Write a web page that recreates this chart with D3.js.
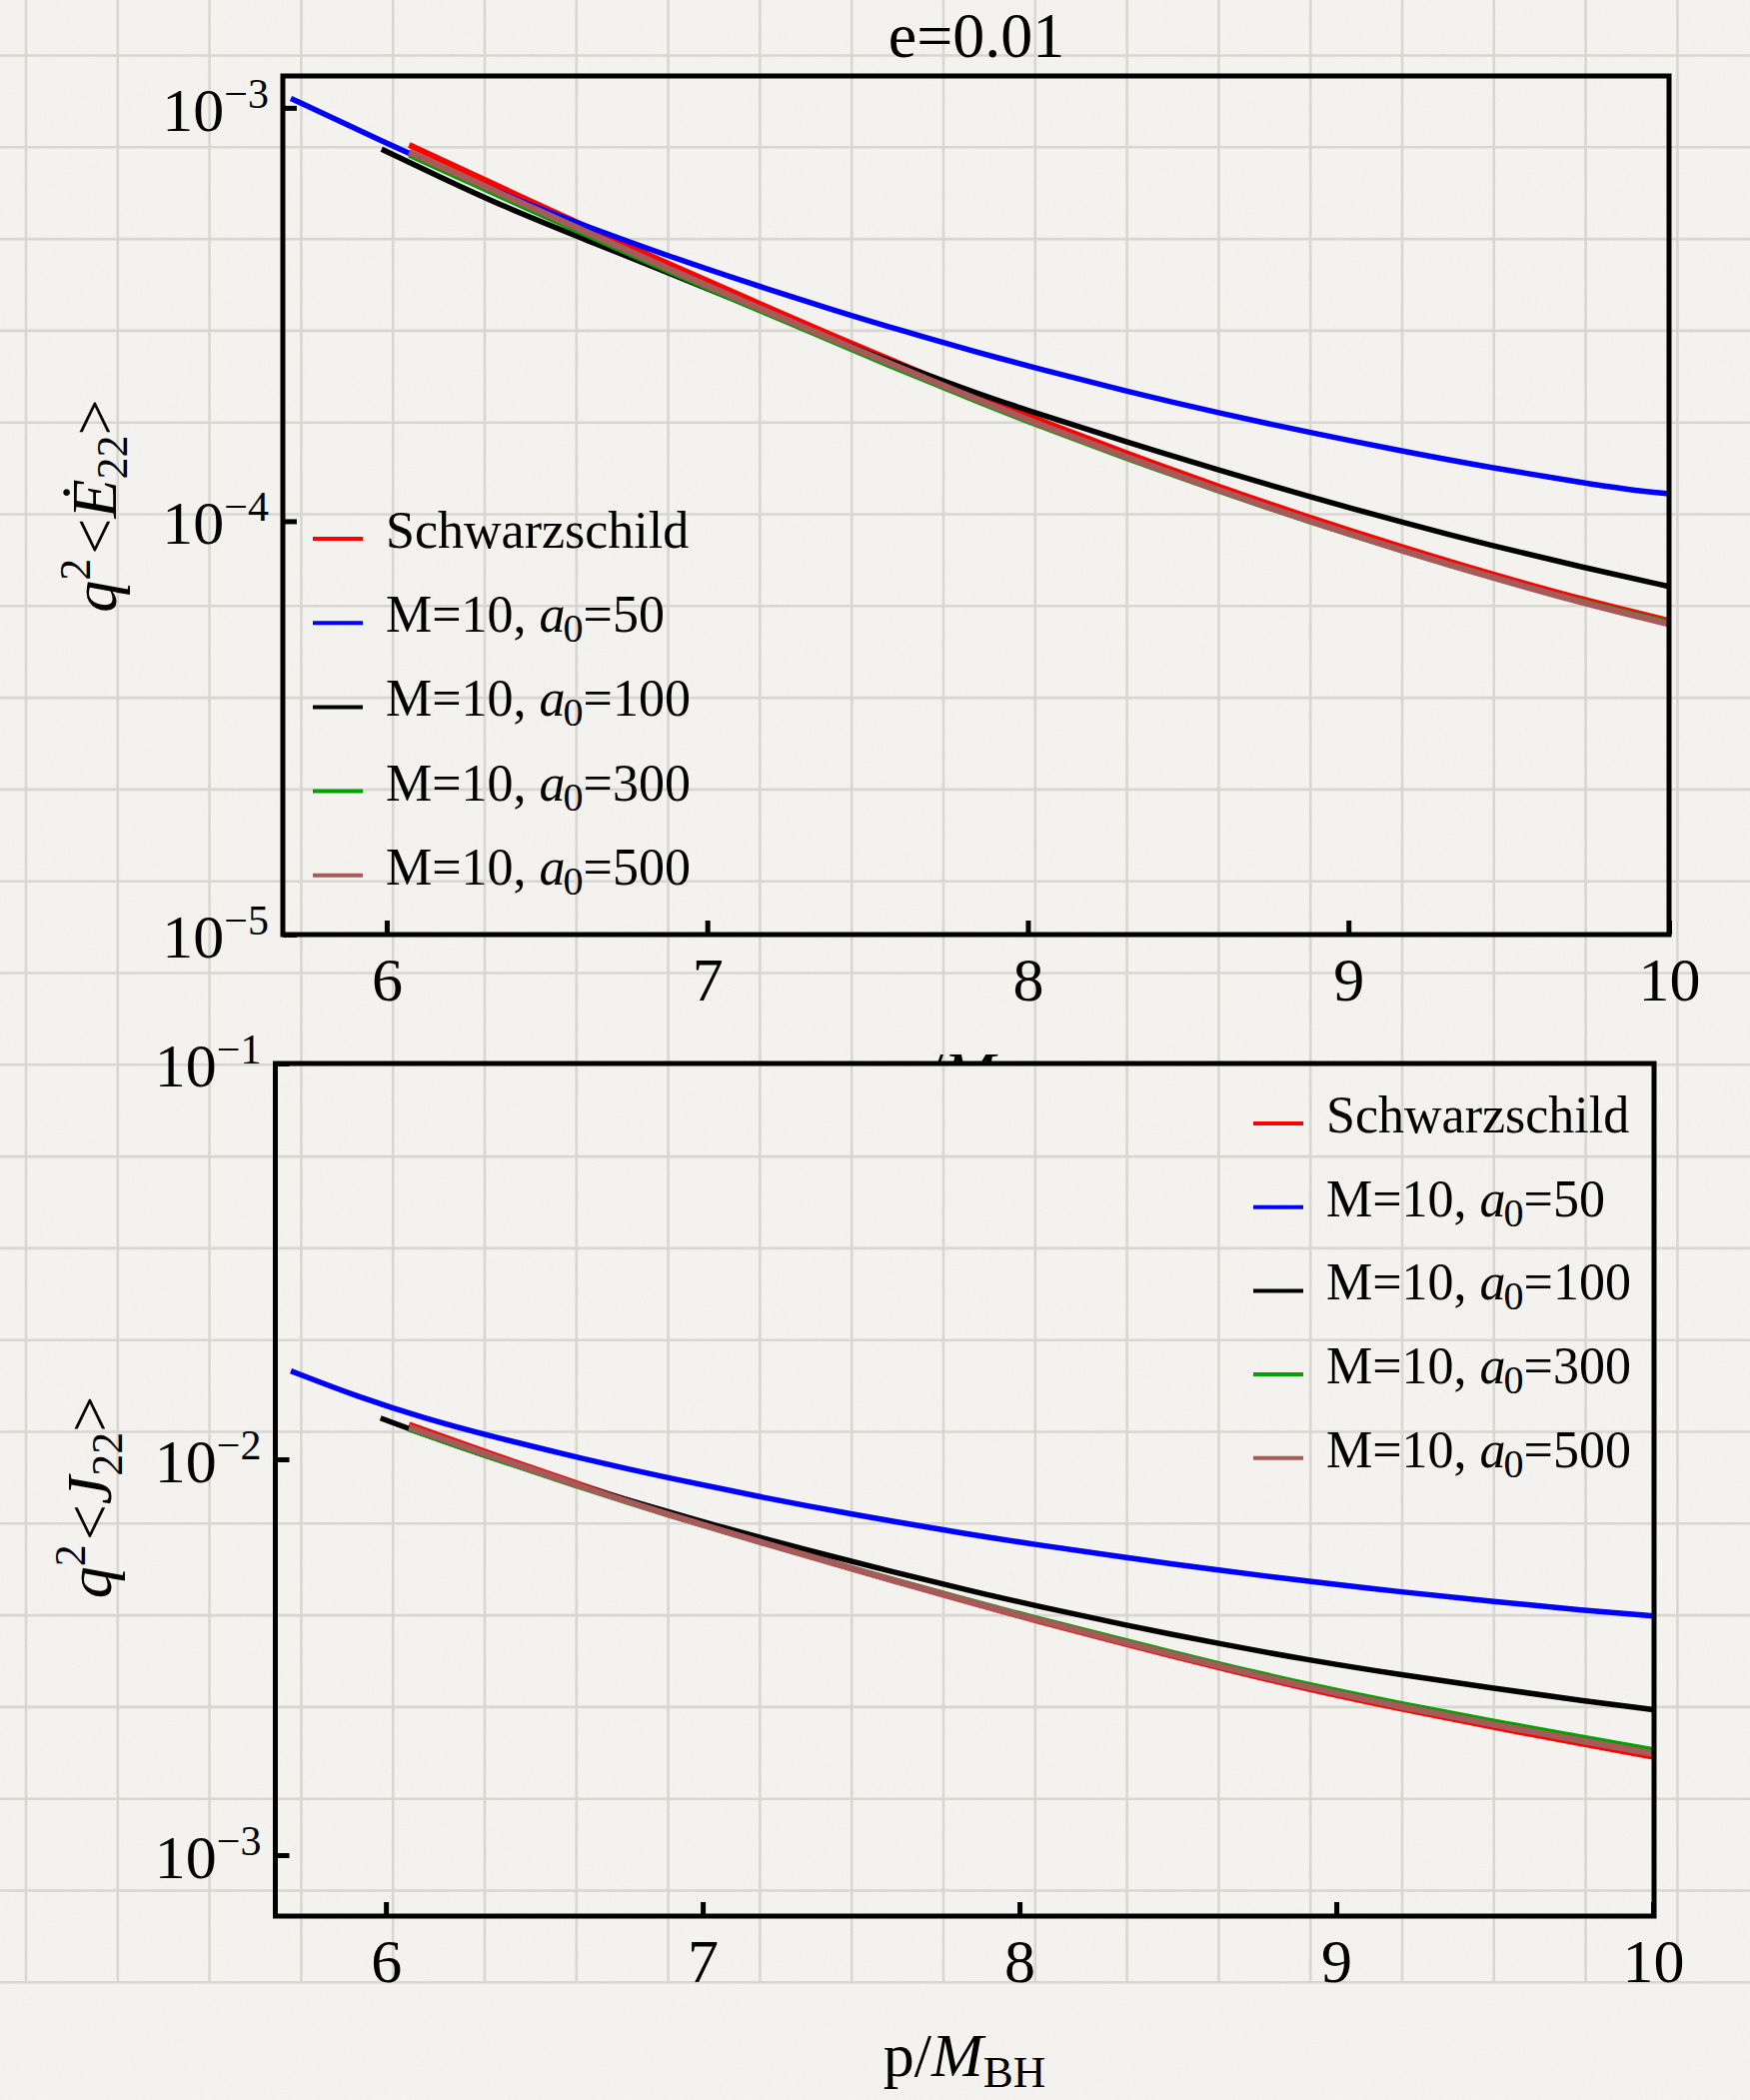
<!DOCTYPE html>
<html>
<head>
<meta charset="utf-8">
<script src="https://cdn.jsdelivr.net/npm/d3@7"></script>
<style>
  body { margin: 0; background: #f3f2ee; }
  svg text { font-family: "Liberation Serif", "Times New Roman", serif; fill: #000; }
</style>
</head>
<body>
<div id="chart"></div>
<script>
// ---- datos ----
// panel superior: q^2 <dE/dt>
var pE_blue = [5.701, 5.875, 6.07, 6.251, 6.431, 6.64, 6.875, 7.128, 7.405, 7.614, 7.847, 8.022, 8.305, 8.598, 8.875, 9.168, 9.445, 9.738, 9.863, 10.0];
var E_blue  = [1.054e-3, 9.11e-4, 7.75e-4, 6.73e-4, 5.89e-4, 5.11e-4, 4.39e-4, 3.77e-4, 3.22e-4, 2.88e-4, 2.556e-4, 2.35e-4, 2.064e-4, 1.825e-4, 1.641e-4, 1.477e-4, 1.347e-4, 1.236e-4, 1.195e-4, 1.165e-4];

var pE_black = [5.984, 6.153, 6.361, 6.64, 6.875, 7.128, 7.405, 7.614, 7.847, 8.022, 8.305, 8.598, 8.875, 9.168, 9.445, 9.738, 10.0];
var E_black  = [7.94e-4, 6.88e-4, 5.78e-4, 4.73e-4, 4.00e-4, 3.33e-4, 2.72e-4, 2.37e-4, 2.03e-4, 1.83e-4, 1.556e-4, 1.327e-4, 1.148e-4, 9.93e-5, 8.74e-5, 7.71e-5, 6.95e-5];

var pE_s    = [6.07, 6.251, 6.431, 6.64, 6.875, 7.128, 7.405, 7.614, 7.847, 8.022, 8.305, 8.598, 8.875, 9.168, 9.445, 9.738, 10.0];
var E_red   = [8.13e-4, 7.00e-4, 6.03e-4, 5.08e-4, 4.20e-4, 3.45e-4, 2.78e-4, 2.38e-4, 2.005e-4, 1.77e-4, 1.46e-4, 1.209e-4, 1.021e-4, 8.64e-5, 7.44e-5, 6.43e-5, 5.74e-5];
var E_green = [7.69e-4, 6.64e-4, 5.74e-4, 4.86e-4, 4.03e-4, 3.32e-4, 2.69e-4, 2.30e-4, 1.94e-4, 1.716e-4, 1.42e-4, 1.179e-4, 9.99e-5, 8.47e-5, 7.32e-5, 6.35e-5, 5.69e-5];
var E_brown = [7.82e-4, 6.75e-4, 5.83e-4, 4.94e-4, 4.09e-4, 3.36e-4, 2.72e-4, 2.33e-4, 1.96e-4, 1.73e-4, 1.43e-4, 1.186e-4, 1.002e-4, 8.49e-5, 7.32e-5, 6.32e-5, 5.64e-5];

// panel inferior: q^2 <J>
var pJ_blue = [5.70, 5.915, 6.126, 6.338, 6.62, 6.902, 7.183, 7.464, 7.842, 8.054, 8.334, 8.631, 8.912, 9.208, 9.497, 9.785, 10.0];
var J_blue  = [1.672e-2, 1.434e-2, 1.266e-2, 1.140e-2, 1.0035e-2, 8.93e-3, 8.03e-3, 7.28e-3, 6.46e-3, 6.085e-3, 5.646e-3, 5.245e-3, 4.915e-3, 4.62e-3, 4.37e-3, 4.15e-3, 4.02e-3];

var pJ_black = [5.983, 6.197, 6.479, 6.76, 7.041, 7.324, 7.606, 7.842, 8.054, 8.334, 8.631, 8.912, 9.208, 9.497, 9.785, 10.0];
var J_black  = [1.271e-2, 1.098e-2, 9.25e-3, 7.90e-3, 6.80e-3, 5.91e-3, 5.18e-3, 4.66e-3, 4.26e-3, 3.81e-3, 3.42e-3, 3.11e-3, 2.85e-3, 2.64e-3, 2.45e-3, 2.33e-3];

var pJ_s    = [6.073, 6.338, 6.62, 6.902, 7.183, 7.464, 7.842, 8.054, 8.334, 8.631, 8.912, 9.208, 9.497, 9.785, 10.0];
var J_red   = [1.2226e-2, 1.0272e-2, 8.585e-3, 7.242e-3, 6.188e-3, 5.31e-3, 4.357e-3, 3.907e-3, 3.420e-3, 2.974e-3, 2.624e-3, 2.339e-3, 2.104e-3, 1.905e-3, 1.773e-3];
var J_green = [1.191e-2, 1.0065e-2, 8.461e-3, 7.179e-3, 6.17e-3, 5.325e-3, 4.395e-3, 3.965e-3, 3.480e-3, 3.035e-3, 2.694e-3, 2.408e-3, 2.173e-3, 1.979e-3, 1.846e-3];
var J_brown = [1.205e-2, 1.0153e-2, 8.51e-3, 7.20e-3, 6.17e-3, 5.31e-3, 4.37e-3, 3.93e-3, 3.44e-3, 3.00e-3, 2.655e-3, 2.366e-3, 2.135e-3, 1.939e-3, 1.804e-3];

var xTicks = [6, 7, 8, 9, 10];
var yTicksTop = [1e-5, 1e-4, 1e-3];
var yTicksBot = [1e-3, 1e-2, 1e-1];

var legendNames = ["Schwarzschild", "50", "100", "300", "500"];
var colores = ["#ff0000", "#0000ff", "#000000", "#00a000", "#a65a5a"];
var anchos = [6, 5.5, 5.5, 5.5, 6.5];

var W = 1751, H = 2101;
var serif = '"Liberation Serif", "Times New Roman", serif';

var svg = d3.select("#chart").append("svg")
  .attr("width", W)
  .attr("height", H);

// ---- fondo tipo papel cuadriculado ----
var defs = svg.append("defs");
var f = defs.append("filter").attr("id", "papel").attr("x", 0).attr("y", 0).attr("width", 1).attr("height", 1);
f.append("feTurbulence").attr("type", "fractalNoise").attr("baseFrequency", 0.7).attr("numOctaves", 3).attr("seed", 4);
f.append("feColorMatrix").attr("type", "matrix")
  .attr("values", "0 0 0 0 0.45  0 0 0 0 0.45  0 0 0 0 0.43  0.12 0 0 0 0");
defs.append("clipPath").attr("id", "corte")
  .append("rect").attr("x", 0).attr("y", 0).attr("width", W).attr("height", 1062);

svg.append("rect").attr("width", W).attr("height", H).attr("fill", "#f7f6f3");
svg.append("rect").attr("width", W).attr("height", H).attr("filter", "url(#papel)");

var grid = svg.append("g").attr("stroke", "#d8d6d1").attr("stroke-width", 2.6);
var paso = 91.8, gridBottom = 1983.5;
d3.range(0, 19).forEach(function (k) {
  grid.append("line").attr("x1", 26 + k * paso).attr("x2", 26 + k * paso)
    .attr("y1", 0).attr("y2", gridBottom);
});
d3.range(0, 22).forEach(function (k) {
  grid.append("line").attr("x1", 0).attr("x2", W)
    .attr("y1", 55.5 + k * paso).attr("y2", 55.5 + k * paso);
});

// ---- un panel ----
function graficar_panel(cfg) {
  var x = d3.scaleLinear().domain(cfg.xDom).range([cfg.left, cfg.right]);
  var y = d3.scaleLog().domain(cfg.yDom).range([cfg.bottom, cfg.top]);
  var g = svg.append("g");

  var linea = d3.line()
    .x(function (d) { return x(d[0]); })
    .y(function (d) { return y(d[1]); })
    .curve(d3.curveBasis);

  cfg.series.forEach(function (s, i) {
    g.append("path")
      .datum(d3.zip(s[0], s[1]))
      .attr("d", linea)
      .attr("fill", "none")
      .attr("stroke", colores[i])
      .attr("stroke-width", anchos[i])
      .attr("stroke-linejoin", "round");
  });

  // eje x
  var gx = g.append("g")
    .attr("transform", "translate(0," + cfg.bottom + ")")
    .call(d3.axisBottom(x).tickValues(xTicks).tickSize(-14).tickPadding(22).tickFormat(d3.format("d")));
  gx.select(".domain").remove();
  gx.attr("font-size", 62).attr("font-family", serif);
  gx.selectAll(".tick line").attr("stroke", "#000").attr("stroke-width", 5);

  // eje y
  var gy = g.append("g")
    .attr("transform", "translate(" + cfg.left + ",0)")
    .call(d3.axisLeft(y).tickValues(cfg.yTicks).tickSize(-14).tickPadding(14));
  gy.select(".domain").remove();
  gy.attr("font-size", 62).attr("font-family", serif);
  gy.selectAll(".tick line").attr("stroke", "#000").attr("stroke-width", 5);
  gy.selectAll(".tick text").each(function (d) {
    var t = d3.select(this).text("").attr("dy", "0.36em");
    t.append("tspan").text("10");
    t.append("tspan").attr("font-size", 42).attr("dy", -23)
      .text("\u2212" + Math.round(-Math.log10(d)));
  });

  // marco
  g.append("rect")
    .attr("x", cfg.left).attr("y", cfg.top)
    .attr("width", cfg.right - cfg.left).attr("height", cfg.bottom - cfg.top)
    .attr("fill", "none").attr("stroke", "#000").attr("stroke-width", 5);

  // leyenda
  var leg = g.append("g");
  legendNames.forEach(function (nombre, i) {
    var yy = cfg.legY + i * cfg.legStep;
    leg.append("line")
      .attr("x1", cfg.legX).attr("x2", cfg.legX + 50)
      .attr("y1", yy).attr("y2", yy)
      .attr("stroke", colores[i]).attr("stroke-width", 4);
    var t = leg.append("text").attr("x", cfg.legX + 73).attr("y", yy + 9).attr("font-size", 52);
    if (i === 0) {
      t.text(nombre);
    } else {
      t.append("tspan").text("M=10, ");
      t.append("tspan").attr("font-style", "italic").text("a");
      t.append("tspan").attr("font-size", 40).attr("dy", 10).attr("dx", -2).text("0");
      t.append("tspan").attr("dy", -10).text("=" + nombre);
    }
  });

  return { x: x, y: y, g: g };
}

// panel superior
graficar_panel({
  left: 283, right: 1670, top: 76, bottom: 935,
  xDom: [5.676, 10], yDom: [1e-5, Math.pow(10, -2.923)],
  yTicks: yTicksTop,
  series: [[pE_s, E_red], [pE_blue, E_blue], [pE_black, E_black], [pE_s, E_green], [pE_s, E_brown]],
  legX: 313, legY: 539, legStep: 84.2
});

// etiqueta x del panel superior (tapada casi entera por el panel inferior)
var tx0 = svg.append("text").attr("clip-path", "url(#corte)")
  .attr("x", 977).attr("y", 1095).attr("font-size", 62).attr("text-anchor", "middle");
tx0.append("tspan").text("p/");
tx0.append("tspan").attr("font-style", "italic").text("M");
tx0.append("tspan").attr("font-size", 45).attr("dy", 11).text("BH");

// panel inferior
graficar_panel({
  left: 275.5, right: 1655, top: 1064, bottom: 1917,
  xDom: [5.651, 10.003], yDom: [Math.pow(10, -3.154), 1e-1],
  yTicks: yTicksBot,
  series: [[pJ_s, J_red], [pJ_blue, J_blue], [pJ_black, J_black], [pJ_s, J_green], [pJ_s, J_brown]],
  legX: 1254, legY: 1124, legStep: 83.7
});

// titulo
svg.append("text").attr("x", 977).attr("y", 57)
  .attr("font-size", 64).attr("text-anchor", "middle").text("e=0.01");

// etiquetas de los ejes y
function etiqueta_y(cx, cy, letra) {
  var t = svg.append("text")
    .attr("transform", "translate(" + cx + "," + cy + ") rotate(-90)")
    .attr("font-size", 64).attr("text-anchor", "middle");
  t.append("tspan").attr("font-style", "italic").text("q");
  t.append("tspan").attr("font-size", 44).attr("dy", -26).text("2");
  t.append("tspan").attr("dy", 26).attr("dx", 4).text("<");
  t.append("tspan").attr("font-style", "italic").text(letra);
  t.append("tspan").attr("font-size", 44).attr("dy", 11).text("22");
  t.append("tspan").attr("dy", -11).text(">");
}
etiqueta_y(116, 506, "\u0116");
etiqueta_y(111, 1498, "J");

// etiqueta x inferior
var tx = svg.append("text").attr("x", 965).attr("y", 2077)
  .attr("font-size", 62).attr("text-anchor", "middle");
tx.append("tspan").text("p/");
tx.append("tspan").attr("font-style", "italic").text("M");
tx.append("tspan").attr("font-size", 45).attr("dy", 11).text("BH");
</script>
</body>
</html>
